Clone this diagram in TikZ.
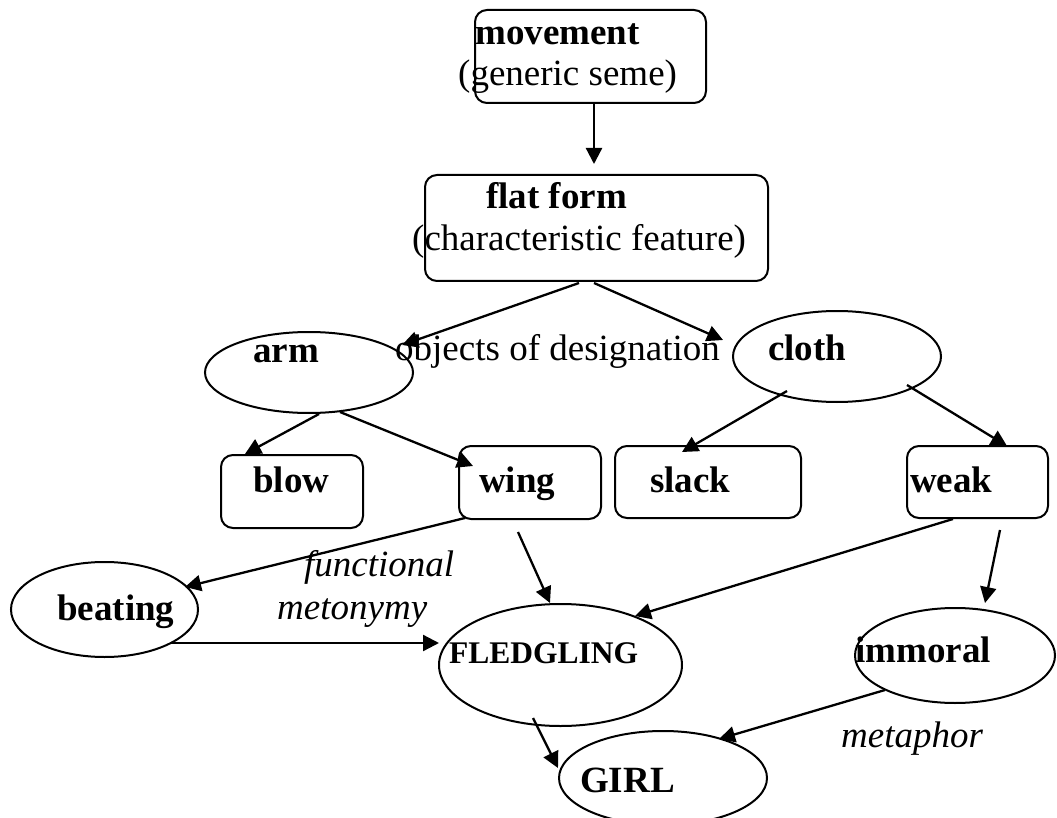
\documentclass[tikz,border=0pt]{standalone}
\usepackage{fontspec}
\setmainfont{Liberation Serif}
\usetikzlibrary{arrows.meta,calc,shapes.geometric}
\tikzset{
  shapeline/.style={draw=black, line width=2pt, inner sep=0pt, outer sep=0pt},
  rbox/.style={shapeline, rectangle, rounded corners=12pt},
  oval/.style={shapeline, ellipse},
  arr/.style={line width=2.3pt, -{Triangle[length=16pt 0 0,width=16pt 0 0]}},
  txt/.style={anchor=base west, inner sep=0pt, font=\fontsize{37}{40}\selectfont},
  btxt/.style={txt, font=\fontsize{37}{40}\selectfont\bfseries},
  itxt/.style={txt, font=\fontsize{37}{40}\selectfont\itshape}
}
\begin{document}
\begin{tikzpicture}[x=1pt,y=-1pt]
\useasboundingbox (0,0) rectangle (1057,818);
% shapes
\node[rbox, minimum width=231pt, minimum height=93pt] (movement) at (590.5,56.5) {};
\node[rbox, minimum width=343pt, minimum height=106pt] (flat) at (596.5,228) {};
\node[oval, minimum width=208pt, minimum height=81pt] (arm) at (309,372.5) {};
\node[oval, minimum width=208pt, minimum height=91pt] (cloth) at (837,356.5) {};
\node[rbox, minimum width=142pt, minimum height=73pt] (blow) at (292,491.5) {};
\node[rbox, minimum width=142pt, minimum height=73pt] (wing) at (530,482.5) {};
\node[rbox, minimum width=186pt, minimum height=72pt] (slack) at (708,482) {};
\node[rbox, minimum width=141pt, minimum height=72pt] (weak) at (977.5,482) {};
\node[oval, minimum width=187pt, minimum height=95pt] (beating) at (104.5,609.5) {};
\node[oval, minimum width=243pt, minimum height=122pt] (fledgling) at (560.5,665) {};
\node[oval, minimum width=200pt, minimum height=95pt] (immoral) at (955,655.5) {};
\node[oval, minimum width=208pt, minimum height=94pt] (girl) at (663,778) {};
% texts
\node[btxt] (tmovement) at (475,45) {movement};
\node[txt] (tgeneric) at (458,86) {(generic seme)};
\node[btxt] (tflat) at (486,209) {flat form};
\node[txt] (tchar) at (412,251) {(characteristic feature)};
\node[btxt] (tarm) at (253,362) {arm};
\node[txt] (tobjects) at (395,360) {objects of designation};
\node[btxt] (tcloth) at (768,360) {cloth};
\node[btxt] (tblow) at (253,492) {blow};
\node[btxt] (twing) at (479,492) {wing};
\node[btxt] (tslack) at (650,492) {slack};
\node[btxt] (tweak) at (910,492) {weak};
\node[btxt] (tbeating) at (57,620) {beating};
\node[itxt] (tfunctional) at (304,576) {functional};
\node[itxt] (tmetonymy) at (277,619) {metonymy};
\node[txt, font=\fontsize{31.5}{34}\selectfont\bfseries] (tfledgling) at (449,663) {FLEDGLING};
\node[btxt] (timmoral) at (855,662) {immoral};
\node[itxt] (tmetaphor) at (841,747) {metaphor};
\node[btxt] (tgirl) at (580,792) {GIRL};
% connectors
\draw[arr] ($(movement.south)+(3.5,0)$) -- ($(flat.north)+(-2.5,-11)$);
\draw[arr] ($(flat.south)+(-17.5,2)$) -- ($(arm)+(93,-27.5)$);
\draw[arr] ($(flat.south)+(-2.5,2)$) -- ($(cloth)+(-114,-16.5)$);
\draw[arr] ($(arm)+(10,41.5)$) -- ($(blow.north)+(-47,-1)$);
\draw[arr] ($(arm)+(31,39.5)$) -- ($(wing.west)+(14,-16.5)$);
\draw[arr] ($(cloth)+(-50,34.5)$) -- ($(slack.north)+(-26,6)$);
\draw[arr] ($(cloth)+(70,28.5)$) -- ($(weak.north)+(29.5,0)$);
\draw[arr] ($(wing.south)+(-65,-1)$) -- ($(beating)+(80.5,-22.5)$);
\draw[arr] ($(wing.south)+(-12,13)$) -- ($(fledgling.north)+(-10.5,-1)$);
\draw[arr] ($(beating)+(65.5,33.5)$) -- ($(fledgling.west)+(0,-22)$);
\draw[arr] ($(weak.south)+(-24.5,1)$) -- ($(fledgling)+(74.5,-49)$);
\draw[arr] ($(weak.south)+(22.5,12)$) -- ($(immoral.north)+(30,-5)$);
\draw[arr] ($(fledgling)+(-27.5,53)$) -- ($(girl)+(-105,-10)$);
\draw[arr] ($(immoral)+(-70,34.5)$) -- ($(girl)+(56,-39)$);
\end{tikzpicture}
\end{document}
